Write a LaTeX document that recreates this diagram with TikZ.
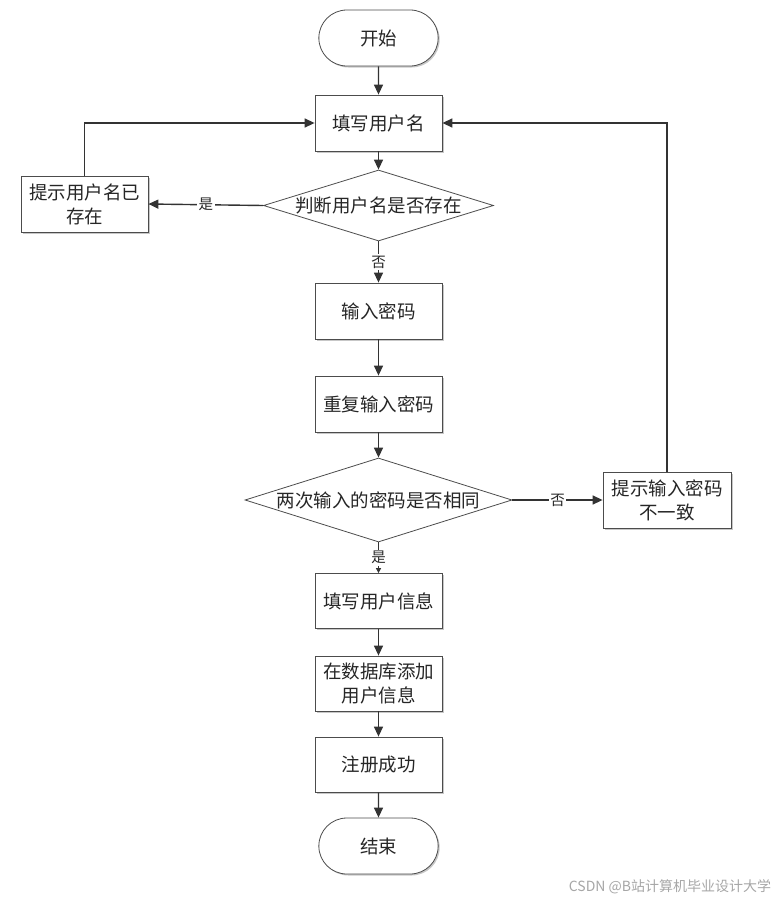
\documentclass[tikz,border=0pt]{standalone}
\usepackage{fontspec}
\setmainfont{Noto Sans CJK SC}
\usetikzlibrary{shapes.geometric,shapes.misc,arrows.meta,shadows}

\tikzset{
  txt/.style={font=\fontsize{18.5}{24}\selectfont, text=black!85, align=center},
  shade box/.style={drop shadow={shadow xshift=1.5pt, shadow yshift=-1.5pt, fill=black!22, opacity=1}},
  procbox/.style={txt, shape=rectangle, draw=black!70, line width=0.8pt, fill=white,
    minimum width=127pt, minimum height=56pt, inner sep=2pt, shade box},
  termbox/.style={txt, shape=rounded rectangle, draw=black!70, line width=0.8pt, fill=white,
    minimum width=126pt, minimum height=56pt, shade box},
  decide/.style={txt, shape=diamond, draw=black!70, line width=0.8pt, fill=white, inner sep=0pt},
  flow/.style={draw=black!80, line width=1.4pt, -{Triangle[length=10pt,width=9pt]}},
  lbl/.style={fill=white, inner sep=1.5pt, text=black!85, font=\fontsize{14.5}{16}\selectfont},
}

\begin{document}
\begin{tikzpicture}[x=1pt, y=-1pt]
\useasboundingbox (0,0) rectangle (783,902);

% main column
\node[termbox] (start) at (378.5,38) {开始};
\node[procbox] (name) at (378.5,123) {填写用户名};
\node[decide, aspect=3.24, minimum width=230pt, minimum height=71pt] (chk) at (378.5,205.5) {判断用户名是否存在};
\node[procbox] (pwd) at (378.5,311) {输入密码};
\node[procbox] (rep) at (378.5,404) {重复输入密码};
\node[decide, aspect=3.18, minimum width=267pt, minimum height=84pt] (same) at (378.5,500) {两次输入的密码是否相同};
\node[procbox, minimum height=55pt] (info) at (378.5,601) {填写用户信息};
\node[procbox, minimum height=55pt] (db) at (378.5,683.5) {在数据库添加\\用户信息};
\node[procbox, minimum height=55pt] (ok) at (378.5,764.5) {注册成功};
\node[termbox] (end) at (378.5,846) {结束};

% side boxes
\node[procbox] (exist) at (84.5,204) {提示用户名已\\存在};
\node[procbox, minimum width=128pt] (mis) at (667,500) {提示输入密码\\不一致};

% connectors
\draw[flow] (start) -- (name);
\draw[flow] (name) -- (chk);
\draw[flow] (chk.west) -- node[lbl] {是} (exist.east);
\draw[flow] (exist.north) |- (name.west);
\draw[flow] (chk.south) -- node[lbl] {否} (pwd.north);
\draw[flow] (pwd) -- (rep);
\draw[flow] (rep) -- (same);
\draw[flow] (same.east) -- node[lbl] {否} (mis.west);
\draw[flow] (mis.north) |- (name.east);
\draw[flow, line width=1pt, -{Triangle[length=5pt,width=5pt]}] (same.south) -- node[lbl] {是} (info.north);
\draw[flow] (info) -- (db);
\draw[flow] (db) -- (ok);
\draw[flow] (ok) -- (end);

% watermark
\node[text=black!35, font=\fontsize{14}{16}\selectfont] (mark) at (670,887) {CSDN @B站计算机毕业设计大学};
\end{tikzpicture}
\end{document}
